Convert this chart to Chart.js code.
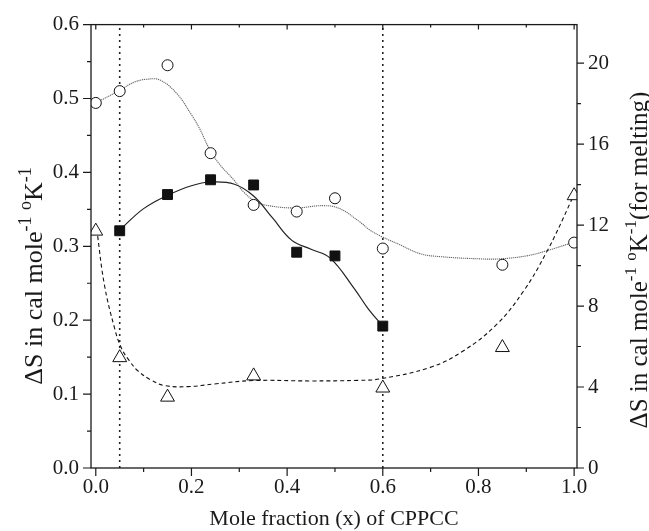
<!DOCTYPE html>
<html>
<head>
<meta charset="utf-8">
<script src="https://cdn.jsdelivr.net/npm/chart.js@4"></script>
<style>
  body { margin: 0; background: #fff; }
  #wrap { width: 649px; height: 531px; position: relative; }
</style>
</head>
<body>
<div id="wrap"><canvas id="chart"></canvas></div>
<script>
// --- Measured points (left axis for squares/circles, right axis for triangles) ---
const squareX = [0.05, 0.15, 0.24, 0.33, 0.42, 0.50, 0.60];
const squareY = [0.321, 0.370, 0.390, 0.383, 0.292, 0.287, 0.192];
const circleX = [0.00, 0.05, 0.15, 0.24, 0.33, 0.42, 0.50, 0.60, 0.85, 1.00];
const circleY = [0.494, 0.510, 0.545, 0.426, 0.356, 0.347, 0.365, 0.297, 0.275, 0.305];
const triangleX = [0.00, 0.05, 0.15, 0.33, 0.60, 0.85, 1.00];
const triangleY = [11.7, 5.45, 3.5, 4.55, 3.95, 5.95, 13.45];

// --- Fitted curves ---
const solidX = [0.05, 0.10, 0.15, 0.20, 0.24, 0.29, 0.33, 0.37, 0.41, 0.45, 0.49, 0.54, 0.57, 0.60];
const solidY = [0.322, 0.351, 0.369, 0.382, 0.387, 0.384, 0.368, 0.338, 0.308, 0.296, 0.284, 0.243, 0.215, 0.192];
const dottedX = [0.00, 0.05, 0.08, 0.106, 0.134, 0.169, 0.20, 0.218, 0.238, 0.26, 0.287, 0.31, 0.336, 0.371, 0.42, 0.476, 0.51, 0.552, 0.573, 0.598, 0.636, 0.678, 0.72, 0.803, 0.845, 0.90, 0.943, 0.9965];
const dottedY = [0.494, 0.511, 0.522, 0.526, 0.525, 0.507, 0.478, 0.458, 0.431, 0.41, 0.391, 0.373, 0.360, 0.354, 0.352, 0.355, 0.351, 0.333, 0.322, 0.313, 0.302, 0.290, 0.286, 0.283, 0.283, 0.287, 0.294, 0.305];
const dashedX = [0.002, 0.018, 0.039, 0.053, 0.07, 0.088, 0.115, 0.144, 0.192, 0.248, 0.33, 0.45, 0.55, 0.594, 0.699, 0.768, 0.838, 0.894, 0.943, 0.992, 1.0];
const dashedY = [11.8, 9.05, 6.93, 5.95, 5.3, 4.80, 4.35, 4.07, 4.02, 4.15, 4.32, 4.30, 4.33, 4.40, 4.97, 5.78, 7.09, 8.73, 10.69, 13.1, 13.6];

// --- Vertical guide lines ---
const guideX = [0.05, 0.60];

// --- Ticks ---
const xTicks = [0, 0.2, 0.4, 0.6, 0.8, 1.0];
const xTickLabels = ["0.0", "0.2", "0.4", "0.6", "0.8", "1.0"];
const xMinor = [0.1, 0.3, 0.5, 0.7, 0.9];
const yTicks = [0, 0.1, 0.2, 0.3, 0.4, 0.5, 0.6];
const yTickLabels = ["0.0", "0.1", "0.2", "0.3", "0.4", "0.5", "0.6"];
const yMinor = [0.05, 0.15, 0.25, 0.35, 0.45, 0.55];
const y2Ticks = [0, 4, 8, 12, 16, 20];
const y2TickLabels = ["0", "4", "8", "12", "16", "20"];
const y2Minor = [2, 6, 10, 14, 18];

const FONT = '"Liberation Serif", "Times New Roman", serif';
const INK = "#1a1a1a";

function pts(xs, ys) { return xs.map((x, i) => ({ x: x, y: ys[i] })); }

// --- Titles with superscripts ---
const leftTitle = [
  { t: "\u0394S in cal mole" }, { t: "-1", sup: true }, { t: " " },
  { t: "o", sup: true }, { t: "K" }, { t: "-1", sup: true }
];
const rightTitle = leftTitle.concat([{ t: "(for melting)" }]);

function drawRich(ctx, segs, cx, cy, angle, main, sup, raise) {
  let total = 0;
  segs.forEach(s => {
    ctx.font = (s.sup ? sup : main) + "px " + FONT;
    s.w = ctx.measureText(s.t).width;
    total += s.w;
  });
  ctx.save();
  ctx.translate(cx, cy);
  ctx.rotate(angle);
  ctx.fillStyle = INK;
  ctx.textBaseline = "alphabetic";
  ctx.textAlign = "left";
  let x = -total / 2;
  segs.forEach(s => {
    ctx.font = (s.sup ? sup : main) + "px " + FONT;
    ctx.fillText(s.t, x, s.sup ? -raise : 0);
    x += s.w;
  });
  ctx.restore();
}

const framePlugin = {
  id: "frame",
  afterDraw(chart) {
    const ctx = chart.ctx;
    const a = chart.chartArea;
    const sx = chart.scales.x, sy = chart.scales.y, sy2 = chart.scales.y2;
    ctx.save();
    ctx.strokeStyle = INK;
    ctx.lineWidth = 1.3;
    ctx.strokeRect(a.left, a.top, a.right - a.left, a.bottom - a.top);
    ctx.lineWidth = 1.2;
    ctx.beginPath();
    xTicks.forEach(v => {
      const p = sx.getPixelForValue(v);
      ctx.moveTo(p, a.bottom); ctx.lineTo(p, a.bottom + 8);
      ctx.moveTo(p, a.top); ctx.lineTo(p, a.top + 5);
    });
    xMinor.forEach(v => {
      const p = sx.getPixelForValue(v);
      ctx.moveTo(p, a.bottom); ctx.lineTo(p, a.bottom + 4);
      ctx.moveTo(p, a.top); ctx.lineTo(p, a.top + 3);
    });
    yTicks.forEach(v => {
      const p = sy.getPixelForValue(v);
      ctx.moveTo(a.left - 8, p); ctx.lineTo(a.left, p);
    });
    yMinor.forEach(v => {
      const p = sy.getPixelForValue(v);
      ctx.moveTo(a.left - 4, p); ctx.lineTo(a.left, p);
    });
    y2Ticks.forEach(v => {
      const p = sy2.getPixelForValue(v);
      ctx.moveTo(a.right, p); ctx.lineTo(a.right + 7, p);
    });
    y2Minor.forEach(v => {
      const p = sy2.getPixelForValue(v);
      ctx.moveTo(a.right, p); ctx.lineTo(a.right + 4, p);
    });
    ctx.stroke();

    // axis titles
    ctx.fillStyle = INK;
    ctx.font = "22px " + FONT;
    ctx.textAlign = "center";
    ctx.textBaseline = "alphabetic";
    ctx.fillText("Mole fraction (x) of CPPCC", (a.left + a.right) / 2, 525);
    drawRich(ctx, leftTitle, 42, 276, -Math.PI / 2, 26, 18, 11);
    drawRich(ctx, rightTitle, 647, 260, -Math.PI / 2, 25, 17, 11);
    ctx.restore();
  }
};

function fixTicks(vals) {
  return s => { s.ticks = vals.map(v => ({ value: v })); };
}

new Chart(document.getElementById("chart"), {
  type: "scatter",
  data: {
    datasets: [
      {
        data: pts(squareX, squareY), yAxisID: "y",
        pointStyle: "rect", pointRadius: 7, pointHoverRadius: 7,
        backgroundColor: "#111", borderColor: "#111", borderWidth: 1
      },
      {
        data: pts(circleX, circleY), yAxisID: "y",
        pointStyle: "circle", pointRadius: 5.5, pointHoverRadius: 5.5,
        backgroundColor: "#fff", borderColor: "#111", borderWidth: 1
      },
      {
        data: pts(triangleX, triangleY), yAxisID: "y2",
        pointStyle: "triangle", pointRadius: 8, pointHoverRadius: 8,
        backgroundColor: "#fff", borderColor: "#111", borderWidth: 1
      },
      {
        data: pts(solidX, solidY), yAxisID: "y", showLine: true,
        borderColor: "#222", borderWidth: 1.2, pointRadius: 0, tension: 0.4
      },
      {
        data: pts(dottedX, dottedY), yAxisID: "y", showLine: true,
        borderColor: "#666", borderWidth: 1.1, borderDash: [1.2, 0.8], pointRadius: 0, tension: 0.4
      },
      {
        data: pts(dashedX, dashedY), yAxisID: "y2", showLine: true,
        borderColor: "#111", borderWidth: 1.1, borderDash: [4, 3], pointRadius: 0, tension: 0.4
      },
      ...guideX.map(g => ({
        data: [{ x: g, y: 0 }, { x: g, y: 0.6 }], yAxisID: "y", showLine: true,
        borderColor: "#222", borderWidth: 1.6, borderDash: [2, 4], pointRadius: 0
      }))
    ]
  },
  options: {
    responsive: true,
    maintainAspectRatio: false,
    animation: false,
    layout: { padding: { top: 21, left: 0, right: 0, bottom: 0 } },
    plugins: { legend: { display: false }, tooltip: { enabled: false } },
    scales: {
      x: {
        type: "linear", min: -0.01, max: 1.006,
        afterBuildTicks: fixTicks(xTicks),
        afterFit: s => { s.height = 63; },
        grid: { display: false, drawTicks: false },
        border: { display: false },
        ticks: {
          padding: 7, color: INK, font: { family: FONT, size: 21 },
          callback: (v, i) => xTickLabels[i]
        }
      },
      y: {
        type: "linear", position: "left", min: 0, max: 0.6,
        afterBuildTicks: fixTicks(yTicks),
        afterFit: s => { s.width = 91; },
        grid: { display: false, drawTicks: false },
        border: { display: false },
        ticks: {
          padding: 12, color: INK, font: { family: FONT, size: 21 },
          callback: (v, i) => yTickLabels[i]
        }
      },
      y2: {
        type: "linear", position: "right", min: 0, max: 21.9,
        afterBuildTicks: fixTicks(y2Ticks),
        afterFit: s => { s.width = 72; },
        grid: { display: false, drawTicks: false },
        border: { display: false },
        ticks: {
          padding: 11, color: INK, font: { family: FONT, size: 21 },
          callback: (v, i) => y2TickLabels[i]
        }
      }
    }
  },
  plugins: [framePlugin]
});
</script>
</body>
</html>
